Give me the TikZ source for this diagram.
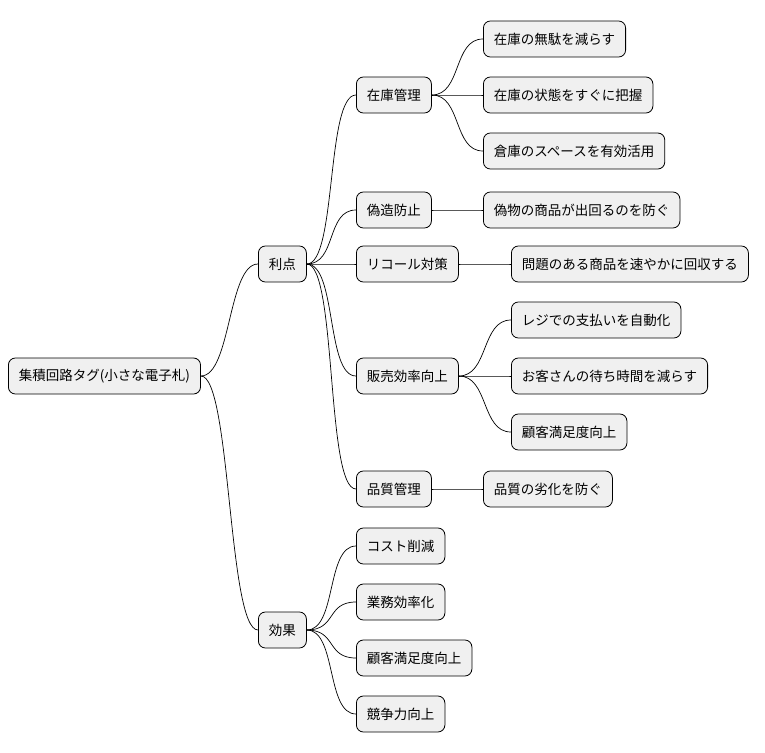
\documentclass[tikz,border=0pt]{standalone}
\usepackage{fontspec}
\setmainfont{Noto Sans CJK JP}
\begin{document}
\begin{tikzpicture}[x=1pt,y=-1pt,
  box/.style={draw=black,line width=0.8pt,fill=black!6,rounded corners=7pt,minimum height=36pt,inner xsep=10.5pt,anchor=west,font=\fontsize{13.5}{15}\selectfont},
  link/.style={draw=black,line width=0.7pt}]
\useasboundingbox (0,0) rectangle (765,752);
\node[box] (root) at (8,376) {集積回路タグ(小さな電子札)};
\node[box] (a) at (258,264) {利点};
\node[box] (b) at (258,630) {効果};
\node[box] (a1) at (356,95) {在庫管理};
\node[box] (a2) at (356,210) {偽造防止};
\node[box] (a3) at (356,264) {リコール対策};
\node[box] (a4) at (356,376) {販売効率向上};
\node[box] (a5) at (356,489) {品質管理};
\node[box] (a11) at (483,39) {在庫の無駄を減らす};
\node[box] (a12) at (483,95) {在庫の状態をすぐに把握};
\node[box] (a13) at (483,151) {倉庫のスペースを有効活用};
\node[box] (a21) at (483,210) {偽物の商品が出回るのを防ぐ};
\node[box] (a31) at (511,264) {問題のある商品を速やかに回収する};
\node[box] (a41) at (511,320) {レジでの支払いを自動化};
\node[box] (a42) at (511,376) {お客さんの待ち時間を減らす};
\node[box] (a43) at (511,432) {顧客満足度向上};
\node[box] (a51) at (483,489) {品質の劣化を防ぐ};
\node[box] (b1) at (356,546) {コスト削減};
\node[box] (b2) at (356,602) {業務効率化};
\node[box] (b3) at (356,658) {顧客満足度向上};
\node[box] (b4) at (356,714) {競争力向上};
\foreach \p/\c in {root/a,root/b,a/a1,a/a2,a/a3,a/a4,a/a5,a1/a11,a1/a12,a1/a13,a2/a21,a3/a31,a4/a41,a4/a42,a4/a43,a5/a51,b/b1,b/b2,b/b3,b/b4}
  \draw[link] (\p.east) .. controls +(30,0) and +(-30,0) .. (\c.west);
\end{tikzpicture}
\end{document}
